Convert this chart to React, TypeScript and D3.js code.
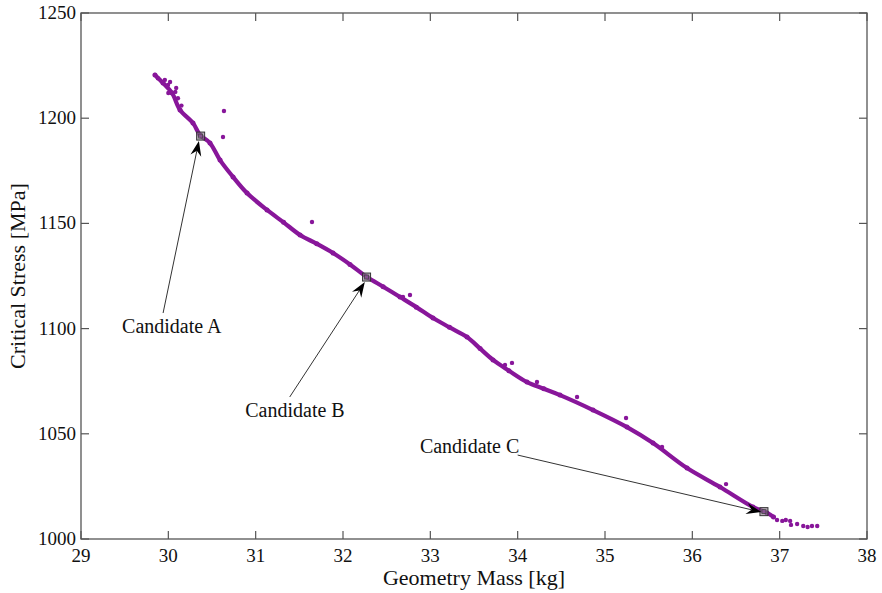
import React from "react";
import * as d3 from "d3";

// Main Pareto band (Geometry Mass [kg], Critical Stress [MPa])
const bandMass = [29.847, 29.939, 30.042, 30.134, 30.282, 30.363, 30.477, 30.592, 30.741, 30.901, 31.13, 31.32, 31.508, 31.7, 31.886, 32.08, 32.275, 32.46, 32.653, 32.84, 33.031, 33.22, 33.42, 33.57, 33.718, 33.9, 34.107, 34.3, 34.485, 34.863, 35.252, 35.55, 35.939, 36.317, 36.695, 36.855, 36.93];
const bandStress = [1220.5, 1216.7, 1212.0, 1203.9, 1197.7, 1192.0, 1188.2, 1180.1, 1172.1, 1164.4, 1156.4, 1150.5, 1144.5, 1140.3, 1135.9, 1130.5, 1124.5, 1119.9, 1115.0, 1110.2, 1105.0, 1100.6, 1096.0, 1090.5, 1085.1, 1080.0, 1074.6, 1071.4, 1068.4, 1061.3, 1053.2, 1045.6, 1033.7, 1024.7, 1015.2, 1012.4, 1010.5];

// Extra dots (top cluster thickening, outliers, tail)
const dotMass = [29.88, 29.96, 29.996, 30.02, 30.08, 30.09, 30.0, 30.11, 30.15, 30.637, 30.626, 31.645, 32.767, 32.687, 33.855, 33.935, 34.221, 34.68, 35.241, 35.653, 36.386, 36.97, 37.03, 37.07, 37.12, 37.13, 37.2, 37.27, 37.32, 37.37, 37.43];
const dotStress = [1219.0, 1218.2, 1215.8, 1217.2, 1212.5, 1214.4, 1212.0, 1209.5, 1206.0, 1203.4, 1191.1, 1150.7, 1116.0, 1115.0, 1082.7, 1083.7, 1074.6, 1067.5, 1057.5, 1043.7, 1026.1, 1009.0, 1008.6, 1009.0, 1008.6, 1006.7, 1007.1, 1006.2, 1005.7, 1006.2, 1006.2];

// Candidates
const candNames = ["Candidate A", "Candidate B", "Candidate C"];
const candMass = [30.37, 32.27, 36.82];
const candStress = [1191.5, 1124.5, 1013.0];
const arrowTailMass = [29.94, 31.39, 34.0];
const arrowTailStress = [1107.4, 1067.5, 1039.9];
const arrowHeadMass = [30.35, 32.25, 36.79];
const arrowHeadStress = [1189.2, 1122.1, 1012.8];
const labelMass = [30.04, 31.45, 33.45];
const labelStress = [1098.0, 1058.0, 1041.0];

const xTicks = [29, 30, 31, 32, 33, 34, 35, 36, 37, 38];
const yTicks = [1000, 1050, 1100, 1150, 1200, 1250];

const W = 882, H = 593;
const L = 81, R = 867, T = 13, B = 539;
const PURPLE = "#88169a";
const AXIS = "#555";
const FONT = "'Liberation Serif', 'Times New Roman', serif";

export default function App() {
  const x = d3.scaleLinear().domain([29, 38]).range([L, R]);
  const y = d3.scaleLinear().domain([1000, 1250]).range([B, T]);
  const band = d3.line<number>().x((_, i) => x(bandMass[i])).y((_, i) => y(bandStress[i])).curve(d3.curveCatmullRom);
  const bandPath = band(bandMass.map((_, i) => i)) || "";

  const arrows = candNames.map((_, i) => {
    const x1 = x(arrowTailMass[i]), y1 = y(arrowTailStress[i]);
    const x2 = x(arrowHeadMass[i]), y2 = y(arrowHeadStress[i]);
    const ang = Math.atan2(y2 - y1, x2 - x1);
    const len = 15, half = 5.5, back = 10;
    const ux = Math.cos(ang), uy = Math.sin(ang);
    const px = -uy, py = ux;
    const bx = x2 - ux * len, by = y2 - uy * len;
    const nx = x2 - ux * back, ny = y2 - uy * back;
    const head = `M${x2},${y2} L${bx + px * half},${by + py * half} L${nx},${ny} L${bx - px * half},${by - py * half} Z`;
    return { x1, y1, nx, ny, head };
  });

  return (
    <svg width={W} height={H} style={{ display: "block", position: "absolute", left: 0, top: 0 }}>
      <rect width={W} height={H} fill="#fff" />
      {/* data */}
      <path d={bandPath} fill="none" stroke={PURPLE} strokeWidth={4.2} strokeLinecap="round" strokeLinejoin="round" />
      {bandMass.map((m, i) => (
        <circle key={"b" + i} cx={x(m)} cy={y(bandStress[i])} r={2.5} fill={PURPLE} />
      ))}
      {dotMass.map((m, i) => (
        <circle key={"d" + i} cx={x(m)} cy={y(dotStress[i])} r={2.2} fill={PURPLE} />
      ))}
      {/* candidate markers */}
      {candMass.map((m, i) => (
        <g key={"c" + i}>
          <rect x={x(m) - 4} y={y(candStress[i]) - 4} width={8} height={8} fill="#8a7a8e" fillOpacity={0.6} stroke="#333" strokeWidth={1} />
          <rect x={x(m) - 2} y={y(candStress[i]) - 2} width={4} height={4} fill="none" stroke="#444" strokeWidth={0.8} />
        </g>
      ))}
      {/* arrows */}
      {arrows.map((a, i) => (
        <g key={"a" + i}>
          <line x1={a.x1} y1={a.y1} x2={a.nx} y2={a.ny} stroke="#333" strokeWidth={1} />
          <path d={a.head} fill="#000" />
        </g>
      ))}
      {candNames.map((n, i) => (
        <text key={"t" + i} x={x(labelMass[i])} y={y(labelStress[i])} textAnchor="middle" fontFamily={FONT} fontSize={20} fill="#111">{n}</text>
      ))}
      {/* axes box */}
      <rect x={L} y={T} width={R - L} height={B - T} fill="none" stroke={AXIS} strokeWidth={1.3} />
      {xTicks.map((t) => (
        <g key={"xt" + t}>
          <line x1={x(t)} x2={x(t)} y1={B} y2={B - 8} stroke={AXIS} strokeWidth={1.2} />
          <line x1={x(t)} x2={x(t)} y1={T} y2={T + 8} stroke={AXIS} strokeWidth={1.2} />
          <text x={x(t)} y={B + 23} textAnchor="middle" fontFamily={FONT} fontSize={19} fill="#111">{t}</text>
        </g>
      ))}
      {yTicks.map((t) => (
        <g key={"yt" + t}>
          <line x1={L} x2={L + 8} y1={y(t)} y2={y(t)} stroke={AXIS} strokeWidth={1.2} />
          <line x1={R} x2={R - 8} y1={y(t)} y2={y(t)} stroke={AXIS} strokeWidth={1.2} />
          <text x={L - 5} y={y(t) + 6} textAnchor="end" fontFamily={FONT} fontSize={19} fill="#111">{t}</text>
        </g>
      ))}
      <text x={474} y={585} textAnchor="middle" fontFamily={FONT} fontSize={22} fill="#111">Geometry Mass [kg]</text>
      <text transform={`translate(25,${(T + B) / 2}) rotate(-90)`} textAnchor="middle" fontFamily={FONT} fontSize={22} fill="#111">Critical Stress [MPa]</text>
    </svg>
  );
}
